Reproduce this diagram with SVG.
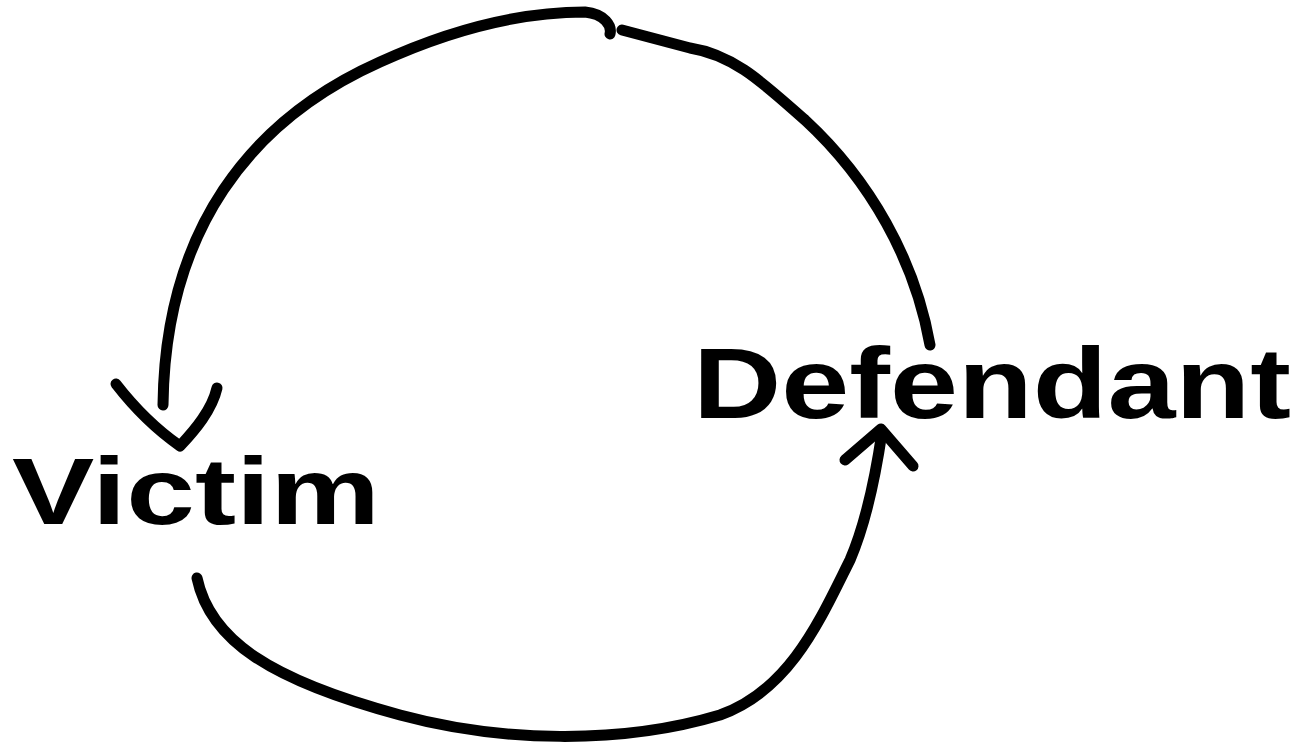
<svg xmlns="http://www.w3.org/2000/svg" width="1303" height="749" viewBox="0 0 1303 749">
<style>
.ln{fill:none;stroke:#000;stroke-width:11;stroke-linecap:round;stroke-linejoin:round}
.lbl{font-family:"Liberation Sans",Arial,sans-serif;font-weight:bold;fill:#000}
</style>
<rect width="1303" height="749" fill="#fff"/>
<g id="connectors">
<path class="ln" d="M 930 345 C 915 260 870 180 805 120 C 765 85 735 55 690 48 L 622 30"/>
<path class="ln" d="M 610 34 C 612 26 605 14 585 12 C 520 12 450 30 380 62 C 250 120 165 230 163 405"/>
<path class="ln" d="M 116 384 C 140 415 160 432 180 446 C 195 430 212 410 217 388"/>
<path class="ln" d="M 197 578 C 210 640 270 680 400 715 C 500 742 620 745 720 715 C 790 690 820 620 850 560 C 865 525 875 480 882 432"/>
<path class="ln" d="M 845 460 L 881 429 L 913 466"/>
</g>
<g id="victim">
<text class="lbl" x="12" y="524" font-size="95" textLength="368" lengthAdjust="spacingAndGlyphs">Victim</text>
</g>
<g id="defendant">
<text class="lbl" x="693" y="418" font-size="100" textLength="598" lengthAdjust="spacingAndGlyphs">Defendant</text>
</g>
</svg>
